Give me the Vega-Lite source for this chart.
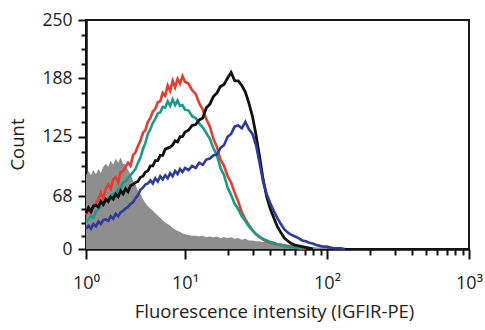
{
  "$schema": "https://vega.github.io/schema/vega-lite/v6.json",
  "width": 383,
  "height": 229,
  "autosize": {"type": "none"},
  "padding": {"left": 86, "top": 20, "right": 16, "bottom": 81},
  "background": "white",
  "config": {
    "view": {"stroke": "#1a1a1a", "strokeWidth": 2},
    "font": "Open Sans",
    "axis": {"grid": false, "domainColor": "#111", "domainWidth": 2.5, "tickColor": "#111", "tickWidth": 2, "labelColor": "#222", "titleColor": "#222", "labelFontSize": 17.5, "titleFontSize": 18.5, "titleFontWeight": "normal", "labelFont": "Open Sans", "titleFont": "Open Sans"}
  },
  "data": {"values": [
    {"x": 1, "gray": 88, "red": 44, "teal": 35, "black": 46, "blue": 26},
    {"x": 1.059, "gray": 92, "red": 51, "teal": 39, "black": 53, "blue": 30},
    {"x": 1.122, "gray": 88, "red": 46, "teal": 42, "black": 48, "blue": 26},
    {"x": 1.189, "gray": 93, "red": 56, "teal": 40, "black": 55, "blue": 32},
    {"x": 1.259, "gray": 89, "red": 58, "teal": 48, "black": 56, "blue": 29},
    {"x": 1.334, "gray": 94, "red": 64, "teal": 51, "black": 54, "blue": 35},
    {"x": 1.413, "gray": 90, "red": 71, "teal": 56, "black": 61, "blue": 32},
    {"x": 1.496, "gray": 96, "red": 65, "teal": 58, "black": 57, "blue": 37},
    {"x": 1.585, "gray": 99, "red": 75, "teal": 61, "black": 64, "blue": 38},
    {"x": 1.679, "gray": 96, "red": 79, "teal": 65, "black": 61, "blue": 36},
    {"x": 1.778, "gray": 102, "red": 75, "teal": 68, "black": 67, "blue": 42},
    {"x": 1.884, "gray": 98, "red": 84, "teal": 70, "black": 64, "blue": 39},
    {"x": 1.995, "gray": 104, "red": 86, "teal": 68, "black": 70, "blue": 45},
    {"x": 2.113, "gray": 100, "red": 81, "teal": 75, "black": 67, "blue": 42},
    {"x": 2.239, "gray": 105, "red": 91, "teal": 76, "black": 73, "blue": 47},
    {"x": 2.371, "gray": 99, "red": 92, "teal": 81, "black": 70, "blue": 49},
    {"x": 2.512, "gray": 98, "red": 96, "teal": 82, "black": 75, "blue": 52},
    {"x": 2.661, "gray": 93, "red": 100, "teal": 85, "black": 72, "blue": 54},
    {"x": 2.818, "gray": 89, "red": 97, "teal": 88, "black": 78, "blue": 58},
    {"x": 2.985, "gray": 83, "red": 107, "teal": 91, "black": 79, "blue": 60},
    {"x": 3.162, "gray": 79, "red": 110, "teal": 94, "black": 81, "blue": 65},
    {"x": 3.35, "gray": 73, "red": 116, "teal": 100, "black": 82, "blue": 69},
    {"x": 3.548, "gray": 70, "red": 121, "teal": 105, "black": 86, "blue": 74},
    {"x": 3.758, "gray": 64, "red": 129, "teal": 113, "black": 87, "blue": 76},
    {"x": 3.981, "gray": 59, "red": 132, "teal": 119, "black": 91, "blue": 79},
    {"x": 4.217, "gray": 55, "red": 141, "teal": 128, "black": 92, "blue": 80},
    {"x": 4.467, "gray": 52, "red": 145, "teal": 133, "black": 97, "blue": 83},
    {"x": 4.732, "gray": 49, "red": 152, "teal": 140, "black": 97, "blue": 80},
    {"x": 5.012, "gray": 46, "red": 155, "teal": 144, "black": 102, "blue": 85},
    {"x": 5.309, "gray": 43, "red": 162, "teal": 150, "black": 102, "blue": 82},
    {"x": 5.623, "gray": 40, "red": 163, "teal": 151, "black": 107, "blue": 87},
    {"x": 5.957, "gray": 37, "red": 172, "teal": 157, "black": 107, "blue": 84},
    {"x": 6.31, "gray": 34, "red": 169, "teal": 156, "black": 113, "blue": 88},
    {"x": 6.683, "gray": 32, "red": 180, "teal": 163, "black": 114, "blue": 85},
    {"x": 7.079, "gray": 30, "red": 174, "teal": 158, "black": 115, "blue": 90},
    {"x": 7.499, "gray": 27, "red": 185, "teal": 165, "black": 117, "blue": 87},
    {"x": 7.943, "gray": 25, "red": 178, "teal": 159, "black": 121, "blue": 92},
    {"x": 8.414, "gray": 23, "red": 187, "teal": 164, "black": 120, "blue": 89},
    {"x": 8.913, "gray": 22, "red": 182, "teal": 158, "black": 125, "blue": 94},
    {"x": 9.441, "gray": 20, "red": 190, "teal": 159, "black": 125, "blue": 91},
    {"x": 10, "gray": 19, "red": 184, "teal": 154, "black": 130, "blue": 95},
    {"x": 10.59, "gray": 18, "red": 182, "teal": 153, "black": 132, "blue": 93},
    {"x": 11.22, "gray": 17, "red": 175, "teal": 147, "black": 137, "blue": 97},
    {"x": 11.89, "gray": 17, "red": 171, "teal": 145, "black": 138, "blue": 95},
    {"x": 12.59, "gray": 16, "red": 161, "teal": 139, "black": 143, "blue": 100},
    {"x": 13.34, "gray": 17, "red": 154, "teal": 135, "black": 145, "blue": 98},
    {"x": 14.13, "gray": 15, "red": 144, "teal": 129, "black": 156, "blue": 103},
    {"x": 14.96, "gray": 16, "red": 136, "teal": 123, "black": 160, "blue": 104},
    {"x": 15.85, "gray": 15, "red": 123, "teal": 114, "black": 168, "blue": 107},
    {"x": 16.79, "gray": 16, "red": 115, "teal": 107, "black": 172, "blue": 108},
    {"x": 17.78, "gray": 14, "red": 103, "teal": 95, "black": 179, "blue": 114},
    {"x": 18.84, "gray": 15, "red": 97, "teal": 88, "black": 181, "blue": 117},
    {"x": 19.95, "gray": 14, "red": 87, "teal": 76, "black": 188, "blue": 125},
    {"x": 21.13, "gray": 15, "red": 81, "teal": 69, "black": 194, "blue": 128},
    {"x": 22.39, "gray": 13, "red": 71, "teal": 58, "black": 185, "blue": 136},
    {"x": 23.71, "gray": 14, "red": 61, "teal": 51, "black": 185, "blue": 137},
    {"x": 25.12, "gray": 12, "red": 47, "teal": 42, "black": 180, "blue": 134},
    {"x": 26.61, "gray": 13, "red": 38, "teal": 36, "black": 173, "blue": 141},
    {"x": 28.18, "gray": 11, "red": 31, "teal": 29, "black": 161, "blue": 133},
    {"x": 29.85, "gray": 11, "red": 24, "teal": 24, "black": 147, "blue": 128},
    {"x": 31.62, "gray": 10, "red": 19, "teal": 19, "black": 127, "blue": 117},
    {"x": 33.5, "gray": 10, "red": 15, "teal": 16, "black": 106, "blue": 100},
    {"x": 35.48, "gray": 9, "red": 12, "teal": 13, "black": 84, "blue": 82},
    {"x": 37.58, "gray": 9, "red": 10, "teal": 11, "black": 67, "blue": 70},
    {"x": 39.81, "gray": 8, "red": 8, "teal": 9, "black": 52, "blue": 59},
    {"x": 42.17, "gray": 8, "red": 7, "teal": 8, "black": 40, "blue": 49},
    {"x": 44.67, "gray": 7, "red": 6, "teal": 6, "black": 29, "blue": 40},
    {"x": 47.32, "gray": 7, "red": 5, "teal": 5, "black": 21, "blue": 32},
    {"x": 50.12, "gray": 6, "red": 4, "teal": 4, "black": 14, "blue": 25},
    {"x": 53.09, "gray": 6, "red": 3, "teal": 3, "black": 10, "blue": 21},
    {"x": 56.23, "gray": 5, "red": 3, "teal": 2, "black": 7, "blue": 18},
    {"x": 59.57, "gray": 5, "red": 2, "teal": 2, "black": 5, "blue": 16},
    {"x": 63.1, "gray": 5, "red": 1, "teal": 1, "black": 4, "blue": 14},
    {"x": 66.83, "gray": 4, "red": 1, "teal": 0, "black": 3, "blue": 11},
    {"x": 70.79, "gray": 4, "red": 0, "black": 2, "blue": 10},
    {"x": 74.99, "gray": 3, "black": 1, "blue": 8},
    {"x": 79.43, "gray": 3, "black": 0, "blue": 7},
    {"x": 84.14, "gray": 2, "blue": 5},
    {"x": 89.13, "gray": 2, "blue": 4},
    {"x": 94.41, "gray": 2, "blue": 3},
    {"x": 100, "gray": 1, "blue": 3},
    {"x": 105.9, "gray": 1, "blue": 2},
    {"x": 112.2, "gray": 0, "blue": 1},
    {"x": 118.9, "blue": 1},
    {"x": 125.9, "blue": 1},
    {"x": 133.4, "blue": 0}
  ]},
  "transform": [
    {"fold": ["gray", "red", "teal", "black", "blue"], "as": ["series", "count"]},
    {"filter": "isValid(datum.count)"}
  ],
  "encoding": {
    "x": {
      "field": "x", "type": "quantitative",
      "scale": {"type": "log", "domain": [1, 10, 100, 1000], "range": [0, 99, 241, 383], "nice": false},
      "axis": {
        "title": "Fluorescence intensity (IGFIR-PE)",
        "values": [1, 10, 20, 30, 40, 50, 60, 70, 80, 90, 100, 200, 300, 400, 500, 600, 700, 800, 900, 1000],
        "labelExpr": "datum.value == 1 ? '10⁰' : datum.value == 10 ? '10¹' : datum.value == 100 ? '10²' : datum.value == 1000 ? '10³' : ''",
        "labelOverlap": false,
        "labelFlush": false,
        "labelPadding": 15,
        "labelFontSize": 18,
        "tickSize": {"condition": {"test": "datum.value == 1 || datum.value == 10 || datum.value == 100 || datum.value == 1000", "value": 10}, "value": 6},
        "titleX": 188,
        "titleY": 62,
        "titleBaseline": "middle",
        "titleAlign": "center"
      }
    },
    "y": {
      "field": "count", "type": "quantitative",
      "scale": {"domain": [0, 68, 125, 188, 250], "range": [229, 176, 116.7, 58, 0], "nice": false, "zero": false},
      "axis": {
        "title": "Count",
        "values": [0, 17, 34, 51, 68, 82.25, 96.5, 110.75, 125, 140.75, 156.5, 172.25, 188, 203.5, 219, 234.5, 250],
        "labelExpr": "indexof([0, 68, 125, 188, 250], datum.value) >= 0 ? datum.label : ''",
        "labelOverlap": false,
        "labelPadding": 6,
        "tickSize": {"condition": {"test": "indexof([0, 68, 125, 188, 250], datum.value) >= 0", "value": 8}, "value": 5},
        "titleX": -69,
        "titleY": 124,
        "titleAngle": -90,
        "titleBaseline": "middle",
        "titleAlign": "center"
      }
    }
  },
  "layer": [
    {"transform": [{"filter": "datum.series == 'gray'"}], "mark": {"type": "area", "color": "#8e8e8e", "opacity": 1}},
    {"transform": [{"filter": "datum.series == 'red'"}], "mark": {"type": "line", "color": "#e63b2e", "strokeWidth": 2.6}},
    {"transform": [{"filter": "datum.series == 'teal'"}], "mark": {"type": "line", "color": "#1b9a8c", "strokeWidth": 2.6}},
    {"transform": [{"filter": "datum.series == 'black'"}], "mark": {"type": "line", "color": "#111111", "strokeWidth": 2.8}},
    {"transform": [{"filter": "datum.series == 'blue'"}], "mark": {"type": "line", "color": "#2e3a9c", "strokeWidth": 2.6}}
  ]
}
